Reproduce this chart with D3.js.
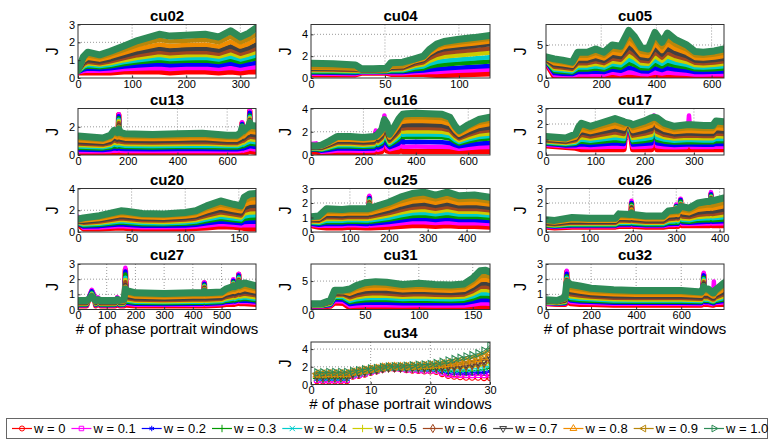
<!DOCTYPE html>
<html>
<head>
<meta charset="utf-8">
<script src="https://cdn.jsdelivr.net/npm/d3@7"></script>
<style>
  body { margin: 0; background: #fff; }
  svg { display: block; }
  text { font-family: "Liberation Sans", Arial, Helvetica, sans-serif; fill: #000; }
</style>
</head>
<body>
<svg id="chart" width="771" height="439"></svg>
<script>
// ---- series (one per weight w) ----
const seriesNames = ["w = 0","w = 0.1","w = 0.2","w = 0.3","w = 0.4","w = 0.5","w = 0.6","w = 0.7","w = 0.8","w = 0.9","w = 1.0"];
const seriesColors = ["#ff0000","#ff00ff","#0000ff","#009900","#00cccc","#cccc00","#a0461e","#404040","#f08c00","#b8860b","#2e8b57"];

// ---- data: window index, then J for w = 0 ... 1.0 at that window ----
const cu02_x = [0,10,18,40,60,85,110,150,170,200,235,260,282,300,315,329];
const cu02_J = [
 [.3,.32,.33,.35,.36,.37,.38,.39,.41,.43,.45],
 [.3,.39,.48,.57,.63,.71,.78,.86,.96,1.07,1.2],
 [.3,.42,.53,.65,.73,.82,.91,1.01,1.14,1.28,1.45],
 [.3,.4,.5,.6,.67,.75,.83,.92,1.03,1.15,1.3],
 [.3,.42,.54,.66,.74,.84,.94,1.04,1.18,1.32,1.5],
 [.35,.5,.64,.79,.89,1.0,1.12,1.25,1.41,1.58,1.8],
 [.35,.53,.7,.88,1.0,1.14,1.28,1.44,1.63,1.84,2.1],
 [.35,.56,.77,.98,1.13,1.3,1.46,1.65,1.88,2.14,2.45],
 [.3,.51,.71,.92,1.06,1.22,1.39,1.57,1.8,2.04,2.35],
 [.35,.56,.76,.97,1.11,1.27,1.44,1.62,1.85,2.09,2.4],
 [.35,.56,.77,.98,1.13,1.3,1.46,1.65,1.88,2.14,2.45],
 [.3,.5,.7,.9,1.04,1.2,1.36,1.54,1.76,2.0,2.3],
 [.35,.58,.81,1.04,1.2,1.39,1.57,1.78,2.03,2.31,2.65],
 [.3,.5,.7,.9,1.04,1.2,1.36,1.54,1.76,2.0,2.3],
 [.35,.57,.78,1.0,1.15,1.32,1.49,1.68,1.92,2.18,2.5],
 [.35,.6,.84,1.09,1.26,1.45,1.65,1.87,2.14,2.43,2.8]
];

const cu04_x = [0,15,30,34,42,51,54,62,70,76,80,85,90,100,110,121];
const cu04_J = [
 [.3,.38,.5,.55,.65,.7,.8,.85,.95,1.0,1.35],
 [.3,.38,.48,.55,.63,.7,.78,.84,.92,.98,1.3],
 [.3,.36,.45,.52,.6,.66,.74,.8,.87,.93,1.2],
 [.45,.5,.55,.6,.62,.65,.7,.72,.75,.8,.85],
 [.45,.5,.55,.6,.62,.65,.7,.72,.75,.8,.85],
 [.45,.5,.55,.6,.63,.67,.72,.75,.78,.83,.9],
 [.35,.43,.54,.61,.7,.77,.88,.95,1.03,1.11,1.4],
 [.35,.44,.55,.63,.71,.79,.9,.98,1.07,1.14,1.45],
 [.35,.5,.63,.8,.95,1.12,1.27,1.43,1.53,1.62,1.75],
 [.35,.53,.68,.88,1.06,1.26,1.44,1.62,1.74,1.85,2.0],
 [.3,.55,.76,1.04,1.29,1.57,1.82,2.07,2.23,2.39,2.6],
 [.25,.56,.82,1.16,1.48,1.82,2.13,2.44,2.64,2.84,3.1],
 [.25,.59,.87,1.24,1.58,1.96,2.3,2.64,2.85,3.07,3.35],
 [.3,.66,.95,1.34,1.7,2.09,2.45,2.8,3.03,3.26,3.55],
 [.35,.72,1.02,1.42,1.79,2.19,2.56,2.93,3.16,3.4,3.7],
 [.4,.79,1.1,1.52,1.9,2.33,2.71,3.1,3.34,3.59,3.9]
];

const cu05_x = [0,30,60,95,115,150,180,210,240,270,300,320,345,370,395,420,440,470,510,540,570,610,645];
const cu05_J = [
 [2.3,2.4,2.5,2.6,2.65,2.7,2.8,2.85,2.95,3.05,3.2],
 [.2,.47,.74,1.01,1.23,1.47,1.71,1.96,2.23,2.52,2.9],
 [.15,.41,.66,.92,1.12,1.35,1.58,1.81,2.06,2.34,2.7],
 [.15,.38,.6,.83,1.0,1.21,1.41,1.61,1.84,2.09,2.4],
 [.15,.53,.9,1.28,1.58,1.91,2.25,2.59,2.96,3.38,3.9],
 [.15,.53,.9,1.28,1.58,1.91,2.25,2.59,2.96,3.38,3.9],
 [.15,.58,1.0,1.43,1.77,2.15,2.53,2.91,3.34,3.81,4.4],
 [.15,.53,.9,1.28,1.58,1.91,2.25,2.59,2.96,3.38,3.9],
 [.35,.82,1.28,1.75,2.12,2.54,2.95,3.37,3.84,4.35,5.0],
 [.15,.62,1.08,1.55,1.92,2.34,2.75,3.17,3.64,4.15,4.8],
 [.15,.86,1.56,2.27,2.83,3.46,4.1,4.73,5.44,6.21,7.2],
 [.15,.77,1.38,2.0,2.49,3.04,3.59,4.15,4.76,5.44,6.3],
 [.15,.6,1.04,1.49,1.84,2.24,2.64,3.04,3.49,3.98,4.6],
 [.15,.58,1.0,1.43,1.77,2.15,2.53,2.91,3.34,3.81,4.4],
 [.15,.83,1.5,2.18,2.72,3.32,3.93,4.54,5.21,5.96,6.9],
 [.15,.68,1.2,1.73,2.15,2.62,3.09,3.56,4.09,4.67,5.4],
 [.15,.82,1.48,2.15,2.68,3.28,3.87,4.47,5.14,5.87,6.8],
 [.15,.72,1.28,1.85,2.3,2.81,3.31,3.82,4.39,5.01,5.8],
 [.15,.64,1.12,1.61,1.99,2.43,2.87,3.3,3.79,4.32,5.0],
 [.15,.54,.92,1.31,1.61,1.96,2.31,2.65,3.04,3.46,4.0],
 [.15,.53,.9,1.28,1.58,1.91,2.25,2.59,2.96,3.38,3.9],
 [.15,.55,.94,1.34,1.65,2.01,2.36,2.72,3.11,3.55,4.1],
 [.15,.58,1.0,1.43,1.77,2.15,2.53,2.91,3.34,3.81,4.4]
];

const cu13_x = [0,100,130,145,158,164,170,190,300,400,500,600,640,655,660,665,680,686,691,696,716];
const cu13_J = [
 [.15,.27,.39,.51,.61,.71,.82,.93,1.05,1.18,1.35],
 [.15,.26,.36,.47,.55,.64,.74,.83,.94,1.05,1.2],
 [.15,.28,.4,.53,.63,.74,.85,.96,1.09,1.23,1.4],
 [.15,.31,.47,.63,.76,.9,1.05,1.19,1.35,1.53,1.75],
 [.15,.3,.44,.59,.7,.83,.96,1.09,1.24,1.4,1.6],
 [2.85,2.9,2.75,2.6,2.5,2.4,2.25,2.1,2.0,1.95,1.85],
 [.15,.3,.44,.59,.7,.83,.96,1.09,1.24,1.4,1.6],
 [.15,.29,.42,.56,.66,.78,.91,1.03,1.16,1.31,1.5],
 [.15,.28,.41,.54,.64,.76,.88,1.0,1.13,1.27,1.45],
 [.15,.29,.42,.56,.66,.78,.91,1.03,1.16,1.31,1.5],
 [.15,.29,.43,.57,.68,.81,.93,1.06,1.2,1.35,1.55],
 [.15,.28,.4,.53,.63,.74,.85,.96,1.09,1.23,1.4],
 [.15,.28,.4,.53,.63,.74,.85,.96,1.09,1.23,1.4],
 [.15,.3,.44,.59,.7,.83,.96,1.09,1.24,1.4,1.6],
 [2.25,2.33,2.2,2.1,2.05,2.0,1.95,1.9,1.9,1.9,1.95],
 [.15,.31,.46,.62,.74,.88,1.02,1.16,1.31,1.48,1.7],
 [.2,.38,.56,.74,.88,1.05,1.21,1.37,1.55,1.75,1.95],
 [.25,.43,.6,.78,.92,1.08,1.24,1.4,1.58,1.78,2.0],
 [3.1,3.17,3.0,2.8,2.7,2.6,2.5,2.45,2.4,2.35,2.3],
 [.25,.44,.62,.8,.95,1.12,1.29,1.46,1.64,1.83,2.1],
 [.2,.39,.57,.76,.9,1.07,1.24,1.4,1.59,1.79,2.05]
];

const cu16_x = [0,20,40,70,100,150,200,240,247,255,270,280,290,300,320,335,342,350,365,400,450,500,530,550,565,600,640,683];
const cu16_J = [
 [.25,.95,.45,.5,.55,.58,.62,.66,.7,.74,.8],
 [.25,1.0,.45,.5,.55,.6,.63,.67,.7,.73,.78],
 [.2,.28,.36,.45,.49,.54,.6,.66,.72,.79,.85],
 [.2,.33,.45,.58,.65,.73,.82,.9,1.0,1.1,1.2],
 [.2,.38,.55,.73,.83,.94,1.07,1.18,1.32,1.46,1.6],
 [.2,.38,.55,.73,.83,.94,1.07,1.18,1.32,1.46,1.6],
 [.2,.37,.53,.69,.79,.89,1.01,1.11,1.24,1.37,1.5],
 [.2,.38,.55,.73,.83,.94,1.07,1.18,1.32,1.46,1.6],
 [1.9,2.1,1.8,1.7,1.65,1.6,1.6,1.6,1.6,1.6,1.65],
 [.25,.45,.64,.84,.95,1.07,1.21,1.34,1.49,1.65,1.8],
 [.3,.55,.78,1.02,1.16,1.31,1.48,1.63,1.82,2.01,2.2],
 [1.0,3.4,1.3,1.6,1.75,1.95,2.15,2.4,2.6,2.85,3.05],
 [.35,.66,.94,1.24,1.41,1.6,1.81,2.0,2.23,2.47,2.7],
 [.3,.5,.68,.87,.98,1.1,1.23,1.35,1.5,1.65,1.8],
 [.3,.59,.85,1.14,1.29,1.47,1.66,1.84,2.06,2.28,2.5],
 [.3,.66,1.0,1.36,1.56,1.78,2.04,2.26,2.54,2.82,3.1],
 [2.1,2.25,2.2,2.3,2.35,2.4,2.5,2.65,2.8,3.0,3.3],
 [.3,.72,1.1,1.52,1.74,2.0,2.28,2.54,2.86,3.18,3.5],
 [.3,.72,1.11,1.54,1.76,2.02,2.32,2.58,2.9,3.23,3.55],
 [.3,.73,1.14,1.56,1.79,2.05,2.35,2.61,2.94,3.27,3.6],
 [.3,.72,1.11,1.54,1.76,2.02,2.32,2.58,2.9,3.23,3.55],
 [.3,.72,1.1,1.52,1.74,2.0,2.28,2.54,2.86,3.18,3.5],
 [.3,.68,1.04,1.42,1.63,1.86,2.13,2.37,2.66,2.96,3.25],
 [.3,.59,.85,1.14,1.29,1.47,1.66,1.84,2.06,2.28,2.5],
 [.3,.53,.75,.98,1.11,1.25,1.42,1.56,1.74,1.92,2.1],
 [.3,.6,.88,1.17,1.34,1.52,1.73,1.91,2.14,2.37,2.6],
 [.3,.66,.99,1.35,1.54,1.76,2.01,2.23,2.5,2.78,3.05],
 [.3,.68,1.04,1.42,1.63,1.86,2.13,2.37,2.66,2.96,3.25]
];

const cu17_x = [0,20,40,60,66,72,90,110,140,158,162,170,176,200,214,219,225,240,260,285,290,295,320,338,345,361];
const cu17_J = [
 [.6,.66,.72,.78,.83,.88,.94,.99,1.05,1.12,1.2],
 [.55,.61,.67,.73,.78,.83,.89,.94,1.0,1.07,1.15],
 [.5,.56,.62,.68,.73,.78,.84,.89,.95,1.02,1.1],
 [.45,.54,.63,.72,.79,.87,.95,1.04,1.13,1.22,1.35],
 [.4,.54,.68,.82,.93,1.06,1.18,1.31,1.45,1.6,1.8],
 [.35,.52,.69,.86,1.0,1.15,1.3,1.46,1.63,1.81,2.05],
 [.35,.5,.65,.8,.92,1.06,1.19,1.33,1.48,1.64,1.85],
 [.35,.52,.69,.86,1.0,1.15,1.3,1.46,1.63,1.81,2.05],
 [.35,.55,.75,.95,1.11,1.29,1.47,1.65,1.85,2.07,2.35],
 [.35,.53,.71,.89,1.03,1.2,1.36,1.52,1.7,1.9,2.15],
 [1.7,1.75,1.75,1.8,1.8,1.85,1.85,1.9,1.95,2.0,2.1],
 [1.65,1.7,1.7,1.75,1.75,1.8,1.85,1.9,1.95,2.0,2.05],
 [.35,.51,.67,.83,.96,1.1,1.25,1.39,1.55,1.73,1.95],
 [.35,.54,.72,.91,1.05,1.22,1.39,1.55,1.74,1.94,2.2],
 [.35,.56,.76,.97,1.13,1.31,1.5,1.68,1.89,2.11,2.4],
 [2.45,2.55,2.5,2.45,2.45,2.45,2.45,2.45,2.45,2.45,2.45],
 [.35,.56,.76,.97,1.13,1.31,1.5,1.68,1.89,2.11,2.4],
 [.35,.52,.69,.86,1.0,1.15,1.3,1.46,1.63,1.81,2.05],
 [.35,.5,.65,.8,.92,1.06,1.19,1.33,1.48,1.64,1.85],
 [.35,.51,.67,.83,.96,1.1,1.25,1.39,1.55,1.73,1.95],
 [.35,2.55,.67,.83,.96,1.1,1.25,1.39,1.55,1.73,1.95],
 [.35,.51,.67,.83,.96,1.1,1.25,1.39,1.55,1.73,1.95],
 [.35,.51,.66,.82,.94,1.08,1.22,1.36,1.51,1.68,1.9],
 [.35,.51,.66,.82,.94,1.08,1.22,1.36,1.51,1.68,1.9],
 [.35,.54,.72,.91,1.05,1.22,1.39,1.55,1.74,1.94,2.2],
 [.35,.53,.71,.89,1.03,1.2,1.36,1.52,1.7,1.9,2.15]
];

const cu20_x = [0,5,20,40,45,60,80,100,110,120,133,145,152,155,160,166];
const cu20_J = [
 [.7,1.4,.75,.8,.85,.9,.95,1.0,1.05,1.1,1.2],
 [.3,.4,.5,.6,.68,.77,.86,.95,1.05,1.16,1.3],
 [.3,.42,.54,.66,.76,.86,.97,1.08,1.2,1.33,1.5],
 [.4,.56,.71,.87,.99,1.13,1.27,1.41,1.56,1.73,1.95],
 [.35,.51,.66,.82,.94,1.08,1.22,1.36,1.51,1.68,1.9],
 [.3,.44,.58,.72,.83,.96,1.08,1.21,1.35,1.5,1.7],
 [.3,.44,.57,.71,.81,.93,1.06,1.18,1.31,1.46,1.65],
 [.3,.45,.6,.75,.87,1.01,1.14,1.28,1.43,1.59,1.8],
 [.35,.51,.67,.83,.96,1.1,1.25,1.39,1.55,1.73,1.95],
 [.4,.6,.8,1.0,1.16,1.34,1.52,1.7,1.9,2.12,2.4],
 [.5,.74,.97,1.21,1.39,1.6,1.82,2.03,2.26,2.52,2.85],
 [.45,.66,.87,1.08,1.25,1.44,1.63,1.82,2.03,2.26,2.55],
 [.4,.6,.8,1.0,1.16,1.34,1.52,1.7,1.9,2.12,2.4],
 [.35,.64,.92,1.21,1.43,1.69,1.95,2.2,2.49,2.8,3.2],
 [.3,.62,.94,1.26,1.52,1.8,2.09,2.38,2.7,3.05,3.5],
 [.3,.63,.95,1.28,1.54,1.82,2.12,2.41,2.74,3.1,3.55]
];

const cu25_x = [0,20,40,80,100,140,147,150,153,200,230,260,290,320,350,380,420,460];
const cu25_J = [
 [.45,.51,.57,.63,.68,.73,.79,.84,.9,.97,1.05],
 [.35,.43,.5,.58,.64,.7,.77,.84,.91,1.0,1.1],
 [.3,.43,.56,.69,.79,.91,1.03,1.15,1.28,1.42,1.6],
 [.3,.43,.55,.68,.78,.89,1.0,1.11,1.24,1.38,1.55],
 [.35,.48,.6,.73,.83,.94,1.05,1.16,1.29,1.43,1.6],
 [.3,.43,.56,.69,.79,.91,1.03,1.15,1.28,1.42,1.6],
 [.3,.43,.56,.69,.79,.91,1.03,1.15,1.28,1.42,1.6],
 [2.4,2.5,2.35,2.25,2.2,2.1,2.05,2.0,1.95,1.9,1.8],
 [.3,.44,.57,.71,.81,.93,1.06,1.18,1.31,1.46,1.65],
 [.35,.52,.69,.86,.98,1.15,1.3,1.46,1.63,1.81,2.05],
 [.4,.6,.8,1.0,1.16,1.34,1.52,1.7,1.9,2.12,2.4],
 [.45,.67,.89,1.11,1.29,1.48,1.68,1.88,2.1,2.34,2.65],
 [.45,.68,.91,1.14,1.32,1.53,1.74,1.95,2.18,2.43,2.75],
 [.4,.62,.83,1.05,1.22,1.41,1.6,1.8,2.01,2.25,2.55],
 [.45,.68,.91,1.14,1.32,1.53,1.74,1.95,2.18,2.43,2.75],
 [.4,.61,.82,1.03,1.2,1.39,1.58,1.77,1.98,2.21,2.5],
 [.4,.62,.83,1.05,1.22,1.41,1.6,1.8,2.01,2.25,2.55],
 [.35,.56,.76,.97,1.13,1.31,1.5,1.68,1.89,2.11,2.4]
];

const cu26_x = [0,20,60,100,160,168,194,197,200,230,270,282,297,300,304,310,314,330,350,370,377,380,383,410];
const cu26_J = [
 [.35,.39,.43,.46,.5,.54,.59,.64,.7,.77,.85],
 [.3,.34,.38,.41,.45,.49,.54,.59,.65,.72,.8],
 [.35,.4,.45,.49,.55,.6,.66,.73,.81,.89,1.0],
 [.35,.4,.44,.48,.53,.58,.64,.7,.77,.85,.95],
 [.35,.4,.44,.48,.53,.58,.64,.7,.77,.85,.95],
 [.4,.47,.53,.59,.66,.72,.81,.89,1.0,1.11,1.25],
 [.4,.46,.52,.58,.64,.7,.78,.86,.96,1.06,1.2],
 [2.0,2.15,2.0,1.9,1.8,1.75,1.7,1.65,1.55,1.45,1.3],
 [.4,.46,.52,.58,.64,.7,.78,.86,.96,1.06,1.2],
 [.35,.41,.46,.52,.58,.64,.71,.79,.88,.97,1.1],
 [.35,.41,.46,.52,.58,.64,.71,.79,.88,.97,1.1],
 [.4,.48,.56,.63,.72,.8,.9,1.01,1.14,1.27,1.45],
 [.4,.49,.57,.64,.73,.82,.93,1.04,1.17,1.31,1.5],
 [1.8,1.9,1.8,1.75,1.7,1.65,1.6,1.6,1.55,1.55,1.5],
 [.4,.49,.57,.64,.73,.82,.93,1.04,1.17,1.31,1.5],
 [2.2,2.3,2.2,2.1,2.0,1.95,1.9,1.85,1.8,1.75,1.75],
 [.45,.55,.65,.74,.84,.94,1.07,1.2,1.36,1.53,1.75],
 [.45,.55,.63,.71,.81,.91,1.03,1.15,1.29,1.45,1.65],
 [.45,.57,.68,.79,.92,1.04,1.19,1.35,1.54,1.74,2.0],
 [.45,.58,.7,.81,.95,1.08,1.24,1.41,1.61,1.82,2.1],
 [.45,.58,.7,.81,.95,1.08,1.24,1.41,1.61,1.82,2.1],
 [2.6,2.75,2.6,2.5,2.45,2.4,2.35,2.3,2.25,2.2,2.2],
 [.45,.58,.7,.81,.95,1.08,1.24,1.41,1.61,1.82,2.15],
 [.45,.6,.74,.87,1.02,1.17,1.36,1.55,1.78,2.03,2.35]
];

const cu27_x = [0,30,42,48,55,62,70,78,100,130,137,145,160,165,170,200,300,400,436,440,444,500,515,537,541,545,556,560,564,580,620];
const cu27_J = [
 [.25,.28,.3,.33,.36,.38,.42,.45,.5,.54,.6],
 [.25,.28,.3,.33,.36,.38,.42,.45,.5,.54,.6],
 [.9,1.0,.95,.9,.85,.8,.8,.75,.75,.75,.75],
 [1.2,1.3,1.2,1.1,1.05,1.0,.95,.9,.9,.85,.85],
 [.9,1.0,.9,.85,.8,.8,.75,.75,.7,.7,.7],
 [.25,.28,.3,.33,.36,.38,.42,.45,.5,.54,.6],
 [.7,.8,.7,.65,.6,.6,.6,.6,.6,.6,.65],
 [.25,.28,.3,.33,.36,.38,.42,.45,.5,.54,.6],
 [.25,.28,.3,.33,.36,.38,.42,.45,.5,.54,.6],
 [.25,.28,.3,.33,.36,.38,.42,.45,.5,.54,.6],
 [.75,.8,.75,.7,.7,.65,.65,.65,.65,.65,.65],
 [.25,.28,.3,.33,.36,.38,.42,.45,.5,.54,.6],
 [.25,.28,.31,.34,.37,.4,.44,.48,.53,.58,.65],
 [2.6,2.75,2.5,2.3,2.1,1.95,1.8,1.6,1.5,1.4,1.35],
 [.3,.38,.44,.51,.59,.66,.76,.85,.97,1.09,1.25],
 [.25,.32,.38,.44,.51,.57,.66,.74,.85,.96,1.1],
 [.25,.31,.37,.43,.49,.55,.63,.71,.81,.91,1.05],
 [.25,.32,.38,.44,.51,.57,.66,.74,.85,.96,1.1],
 [.25,.32,.38,.44,.51,.57,.66,.74,.85,.96,1.1],
 [1.75,1.8,1.7,1.6,1.55,1.5,1.45,1.4,1.35,1.3,1.2],
 [.25,.32,.38,.44,.51,.57,.66,.74,.85,.96,1.1],
 [.3,.37,.43,.49,.56,.62,.71,.79,.9,1.01,1.15],
 [.35,.43,.5,.57,.65,.73,.83,.93,1.05,1.18,1.35],
 [.35,.44,.52,.6,.7,.79,.9,1.02,1.16,1.3,1.5],
 [1.9,2.0,1.9,1.8,1.75,1.7,1.65,1.6,1.6,1.55,1.55],
 [.35,.44,.52,.6,.7,.79,.9,1.02,1.16,1.3,1.5],
 [.4,.5,.58,.66,.76,.86,.98,1.1,1.24,1.4,1.6],
 [2.3,2.35,2.25,2.15,2.1,2.0,1.95,1.9,1.85,1.8,1.75],
 [.4,.5,.58,.66,.76,.86,.98,1.1,1.24,1.4,1.6],
 [.4,.51,.6,.7,.81,.91,1.05,1.18,1.35,1.52,1.75],
 [.35,.45,.53,.61,.71,.81,.93,1.05,1.19,1.35,1.55]
];

const cu31_x = [0,10,18,22,30,36,42,50,60,70,85,100,115,130,142,150,157,162,166];
const cu31_J = [
 [.5,.55,.6,.65,.7,.75,.8,.85,.9,.95,1.0],
 [.5,.55,.6,.65,.7,.75,.8,.85,.9,.95,1.05],
 [.6,.7,.8,.9,1.0,1.1,1.2,1.3,1.4,1.5,1.6],
 [1.2,1.5,1.8,2.1,2.3,2.5,2.7,2.9,3.1,3.25,3.4],
 [1.1,1.4,1.7,2.0,2.2,2.45,2.65,2.85,3.05,3.2,3.4],
 [.3,.63,.96,1.29,1.55,1.85,2.15,2.45,2.78,3.14,3.6],
 [.3,.69,1.08,1.47,1.78,2.13,2.48,2.84,3.23,3.65,4.2],
 [.3,.74,1.18,1.62,1.97,2.37,2.76,3.16,3.6,4.08,4.7],
 [.3,.76,1.22,1.68,2.05,2.46,2.88,3.29,3.75,4.26,4.9],
 [.3,.75,1.2,1.65,2.01,2.42,2.82,3.23,3.68,4.17,4.8],
 [.3,.71,1.12,1.53,1.86,2.23,2.6,2.97,3.38,3.83,4.4],
 [.3,.73,1.16,1.59,1.93,2.32,2.71,3.1,3.53,4.0,4.6],
 [.3,.71,1.12,1.53,1.86,2.23,2.6,2.97,3.38,3.83,4.4],
 [.3,.7,1.1,1.5,1.82,2.18,2.54,2.9,3.3,3.74,4.3],
 [.3,.72,1.14,1.56,1.9,2.27,2.65,3.03,3.45,3.91,4.5],
 [.35,.87,1.38,1.9,2.31,2.77,3.23,3.7,4.21,4.78,5.5],
 [.4,1.04,1.68,2.32,2.83,3.41,3.98,4.56,5.2,5.9,6.8],
 [.4,1.05,1.7,2.35,2.87,3.46,4.04,4.63,5.28,5.99,6.9],
 [.4,1.02,1.64,2.26,2.76,3.31,3.87,4.43,5.05,5.73,6.6]
];

const cu32_x = [0,50,85,92,96,110,150,200,300,400,500,600,690,700,705,720,740,745,750,790];
const cu32_J = [
 [.4,.42,.44,.46,.48,.5,.52,.55,.58,.61,.65],
 [.35,.37,.39,.41,.43,.45,.47,.5,.53,.56,.6],
 [.35,.39,.42,.45,.49,.52,.57,.61,.67,.72,.8],
 [2.45,2.55,2.35,2.2,2.1,2.0,1.95,1.9,1.85,1.8,1.75],
 [.5,.6,.7,.79,.89,.99,1.12,1.25,1.41,1.58,1.8],
 [.4,.5,.59,.68,.78,.88,1.0,1.13,1.28,1.44,1.65],
 [.35,.45,.53,.61,.71,.81,.93,1.05,1.19,1.35,1.55],
 [.35,.43,.51,.58,.67,.75,.85,.96,1.09,1.22,1.4],
 [.3,.38,.45,.52,.6,.68,.78,.88,1.0,1.13,1.3],
 [.3,.38,.44,.51,.59,.66,.76,.85,.97,1.09,1.25],
 [.3,.38,.44,.51,.59,.66,.76,.85,.97,1.09,1.25],
 [.3,.38,.44,.51,.59,.66,.76,.85,.97,1.09,1.25],
 [.3,.37,.43,.49,.56,.62,.71,.79,.9,1.01,1.15],
 [2.3,2.42,2.25,2.1,2.0,1.9,1.8,1.7,1.6,1.55,1.5],
 [.35,.43,.5,.57,.65,.73,.83,.93,1.05,1.18,1.35],
 [.35,.43,.5,.57,.65,.73,.83,.93,1.05,1.18,1.35],
 [.3,.36,.42,.48,.54,.6,.68,.76,.86,.96,1.1],
 [.3,1.85,.42,.48,.54,.6,.68,.76,.86,.96,1.1],
 [.35,.42,.49,.55,.62,.69,.78,.87,.98,1.1,1.25],
 [.35,.46,.56,.66,.77,.88,1.02,1.16,1.33,1.51,1.75]
];

const cu34_x = [1,2,3,4,5,6,7,8,9,10,11,12,13,14,15,16,17,18,19,20,21,22,23,24,25,26,27,28,29,30];
const cu34_J = [
 [.4,.5,.59,.69,.76,.85,.93,1.02,1.11,1.22,1.35],
 [.38,.48,.57,.67,.75,.84,.92,1.01,1.11,1.21,1.35],
 [.38,.48,.58,.69,.77,.86,.95,1.04,1.15,1.26,1.4],
 [.38,.48,.58,.69,.77,.86,.95,1.04,1.15,1.26,1.4],
 [.38,.48,.58,.69,.77,.86,.95,1.04,1.15,1.26,1.4],
 [.4,.5,.6,.7,.78,.87,.96,1.05,1.15,1.26,1.4],
 [.9,.96,1.02,1.08,1.13,1.18,1.24,1.29,1.35,1.42,1.5],
 [1.0,1.06,1.12,1.18,1.23,1.28,1.34,1.39,1.45,1.52,1.6],
 [1.15,1.21,1.26,1.32,1.36,1.41,1.46,1.51,1.56,1.62,1.7],
 [1.35,1.4,1.44,1.49,1.52,1.56,1.6,1.64,1.69,1.74,1.8],
 [1.5,1.54,1.57,1.61,1.63,1.66,1.7,1.73,1.76,1.8,1.85],
 [1.7,1.73,1.75,1.78,1.8,1.82,1.84,1.86,1.89,1.92,1.95],
 [1.85,1.87,1.88,1.9,1.91,1.92,1.93,1.95,1.96,1.98,2.0],
 [1.8,1.83,1.85,1.88,1.9,1.92,1.94,1.96,1.99,2.02,2.05],
 [1.75,1.78,1.81,1.84,1.86,1.89,1.92,1.95,1.98,2.01,2.05],
 [1.65,1.7,1.74,1.79,1.82,1.86,1.9,1.94,1.99,2.04,2.1],
 [1.6,1.66,1.71,1.77,1.81,1.86,1.91,1.96,2.01,2.07,2.15],
 [1.55,1.62,1.68,1.75,1.8,1.86,1.91,1.97,2.04,2.11,2.2],
 [1.5,1.58,1.65,1.73,1.79,1.85,1.92,1.99,2.06,2.15,2.25],
 [1.5,1.58,1.66,1.74,1.8,1.88,1.95,2.02,2.1,2.19,2.3],
 [1.45,1.55,1.64,1.74,1.81,1.9,1.98,2.07,2.16,2.27,2.4],
 [1.2,1.34,1.47,1.61,1.71,1.83,1.96,2.08,2.21,2.36,2.55],
 [1.0,1.17,1.34,1.51,1.65,1.8,1.95,2.11,2.28,2.46,2.7],
 [.9,1.1,1.29,1.49,1.64,1.82,1.99,2.17,2.36,2.58,2.85],
 [.85,1.07,1.28,1.5,1.67,1.86,2.05,2.25,2.46,2.7,3.0],
 [.8,1.04,1.27,1.51,1.69,1.9,2.12,2.33,2.56,2.82,3.15],
 [.8,1.05,1.3,1.55,1.75,1.98,2.2,2.43,2.68,2.95,3.3],
 [.8,1.07,1.34,1.61,1.83,2.07,2.31,2.56,2.83,3.12,3.5],
 [.75,1.06,1.36,1.67,1.91,2.18,2.46,2.73,3.04,3.37,3.8],
 [.75,1.12,1.48,1.85,2.14,2.47,2.79,3.12,3.49,3.89,4.4]
];

// ---- axis ticks ----
const ticks_x = {
  cu02:[0,100,200,300], cu04:[0,50,100], cu05:[0,200,400,600],
  cu13:[0,200,400,600], cu16:[0,200,400,600], cu17:[0,100,200,300],
  cu20:[0,50,100,150], cu25:[0,100,200,300,400], cu26:[0,100,200,300,400],
  cu27:[0,100,200,300,400,500], cu31:[0,50,100,150], cu32:[0,200,400,600],
  cu34:[0,10,20,30]
};
const ticks_y = {
  cu02:[0,1,2,3], cu04:[0,2,4], cu05:[0,5], cu13:[0,2], cu16:[0,2,4],
  cu17:[0,1,2,3], cu20:[0,2,4], cu25:[0,1,2,3], cu26:[0,1,2,3],
  cu27:[0,1,2,3], cu31:[0,5], cu32:[0,1,2,3], cu34:[0,2,4]
};

// ---- panel arrangement ----
const colX = [[78, 256], [311, 490], [546, 724]];
const rowY = [[24.5, 78], [108.5, 155], [188.5, 232], [264, 309.5], [342, 384.5]];
const panels = [
  {name:"cu02", col:0, row:0, xs:cu02_x, J:cu02_J, xMax:329, yMax:3},
  {name:"cu04", col:1, row:0, xs:cu04_x, J:cu04_J, xMax:121, yMax:4.9},
  {name:"cu05", col:2, row:0, xs:cu05_x, J:cu05_J, xMax:645, yMax:8.1},
  {name:"cu13", col:0, row:1, xs:cu13_x, J:cu13_J, xMax:716, yMax:3.3},
  {name:"cu16", col:1, row:1, xs:cu16_x, J:cu16_J, xMax:683, yMax:4},
  {name:"cu17", col:2, row:1, xs:cu17_x, J:cu17_J, xMax:361, yMax:3},
  {name:"cu20", col:0, row:2, xs:cu20_x, J:cu20_J, xMax:166, yMax:4},
  {name:"cu25", col:1, row:2, xs:cu25_x, J:cu25_J, xMax:460, yMax:3},
  {name:"cu26", col:2, row:2, xs:cu26_x, J:cu26_J, xMax:410, yMax:3},
  {name:"cu27", col:0, row:3, xs:cu27_x, J:cu27_J, xMax:620, yMax:3, xlabel:true},
  {name:"cu31", col:1, row:3, xs:cu31_x, J:cu31_J, xMax:166, yMax:8},
  {name:"cu32", col:2, row:3, xs:cu32_x, J:cu32_J, xMax:790, yMax:3, xlabel:true},
  {name:"cu34", col:1, row:4, xs:cu34_x, J:cu34_J, xMax:30, yMax:4.8, xlabel:true, markers:true}
];

const symbolTypes = [d3.symbolCircle, d3.symbolSquare, d3.symbolAsterisk || d3.symbolStar,
  d3.symbolPlus || d3.symbolCross, d3.symbolTimes || d3.symbolCross, d3.symbolPlus || d3.symbolCross,
  d3.symbolDiamond, d3.symbolTriangle, d3.symbolTriangle, d3.symbolTriangle, d3.symbolTriangle];
const symbolRotate = [0, 0, 0, 0, 0, 0, 0, 180, 0, -90, 90];
const bandWidth = [5.5, 4.5, 4.5, 4.5, 4.5, 4.5, 4.5, 4.5, 4.5, 4.5, 7];

const svg = d3.select("#chart");

panels.forEach((p, pi) => {
  const [x0, x1] = colX[p.col];
  const [y0, y1] = rowY[p.row];
  const x = d3.scaleLinear().domain([0, p.xMax]).range([x0, x1]);
  const y = d3.scaleLinear().domain([0, p.yMax]).range([y1, y0]);
  const g = svg.append("g");

  // dotted grid
  const xt = ticks_x[p.name], yt = ticks_y[p.name];
  g.selectAll(null).data(xt.filter(t => t > 0 && t < p.xMax)).join("line")
    .attr("x1", d => x(d)).attr("x2", d => x(d)).attr("y1", y0).attr("y2", y1)
    .attr("stroke", "#9a9a9a").attr("stroke-width", 1).attr("stroke-dasharray", "1,2");
  g.selectAll(null).data(yt.filter(t => t > 0 && t < p.yMax)).join("line")
    .attr("x1", x0).attr("x2", x1).attr("y1", d => y(d)).attr("y2", d => y(d))
    .attr("stroke", "#9a9a9a").attr("stroke-width", 1).attr("stroke-dasharray", "1,2");

  // series
  const clipId = "clip" + pi;
  svg.append("clipPath").attr("id", clipId).append("rect")
    .attr("x", x0).attr("y", y0).attr("width", x1 - x0).attr("height", y1 - y0);
  const lg = g.append("g").attr("clip-path", `url(#${clipId})`);
  const line = d3.line().x(d => x(d[0])).y(d => y(d[1]));
  for (let k = 0; k < seriesNames.length; k++) {
    const pts = p.xs.map((xv, i) => [xv, p.J[i][k]]);
    lg.append("path").attr("d", line(pts))
      .attr("fill", "none").attr("stroke", seriesColors[k])
      .attr("stroke-width", p.markers ? 1 : bandWidth[k])
      .attr("stroke-linejoin", "round").attr("stroke-linecap", "round");
    if (p.markers) {
      const sym = d3.symbol().type(symbolTypes[k]).size(24);
      lg.selectAll(null).data(pts).join("path")
        .attr("d", sym)
        .attr("transform", d => `translate(${x(d[0])},${y(d[1])}) rotate(${symbolRotate[k]})`)
        .attr("fill", "none").attr("stroke", seriesColors[k]).attr("stroke-width", 1.1);
    }
  }

  // frame
  g.append("rect").attr("x", x0).attr("y", y0).attr("width", x1 - x0).attr("height", y1 - y0)
    .attr("fill", "none").attr("stroke", "#333").attr("stroke-width", 1);

  // axes
  const ax = g.append("g").attr("transform", `translate(0,${y1})`)
    .call(d3.axisBottom(x).tickValues(xt).tickSizeInner(-2.5).tickSizeOuter(0).tickPadding(2).tickFormat(d3.format("d")));
  const ay = g.append("g").attr("transform", `translate(${x0},0)`)
    .call(d3.axisLeft(y).tickValues(yt).tickSizeInner(-2.5).tickSizeOuter(0).tickPadding(3).tickFormat(d3.format("d")));
  [ax, ay].forEach(a => {
    a.select(".domain").remove();
    a.selectAll(".tick line").attr("stroke", "#333");
    a.selectAll(".tick text").style("font-size", "11px").style("font-family", "'Liberation Sans', Arial, sans-serif").attr("fill", "#000");
  });

  // title
  g.append("text").attr("x", (x0 + x1) / 2).attr("y", y0 - 4)
    .attr("text-anchor", "middle").style("font-size", "15px").style("font-weight", "bold").text(p.name);

  // y label
  g.append("text").attr("transform", `translate(${x0 - 20},${(y0 + y1) / 2}) rotate(-90)`)
    .attr("text-anchor", "middle").style("font-size", "16px").text("J");

  // x label
  if (p.xlabel) {
    g.append("text").attr("x", (x0 + x1) / 2).attr("y", y1 + 24.5)
      .attr("text-anchor", "middle").style("font-size", "15px").text("# of phase portrait windows");
  }
});

// ---- legend ----
const leg = svg.append("g");
leg.append("rect").attr("x", 6.5).attr("y", 418.5).attr("width", 761).attr("height", 20)
  .attr("fill", "#fff").attr("stroke", "#666").attr("stroke-width", 1);
let lx = 12;
const ly = 428.5;
seriesNames.forEach((s, k) => {
  leg.append("line").attr("x1", lx).attr("x2", lx + 20).attr("y1", ly).attr("y2", ly)
    .attr("stroke", seriesColors[k]).attr("stroke-width", 1.2);
  leg.append("path").attr("d", d3.symbol().type(symbolTypes[k]).size(20)())
    .attr("transform", `translate(${lx + 10},${ly}) rotate(${symbolRotate[k]})`)
    .attr("fill", "none").attr("stroke", seriesColors[k]).attr("stroke-width", 1);
  const t = leg.append("text").attr("x", lx + 22).attr("y", ly).attr("dy", "0.35em")
    .style("font-size", "13px").text(s);
  lx += 22 + t.node().getComputedTextLength() + 6;
});
</script>
</body>
</html>
